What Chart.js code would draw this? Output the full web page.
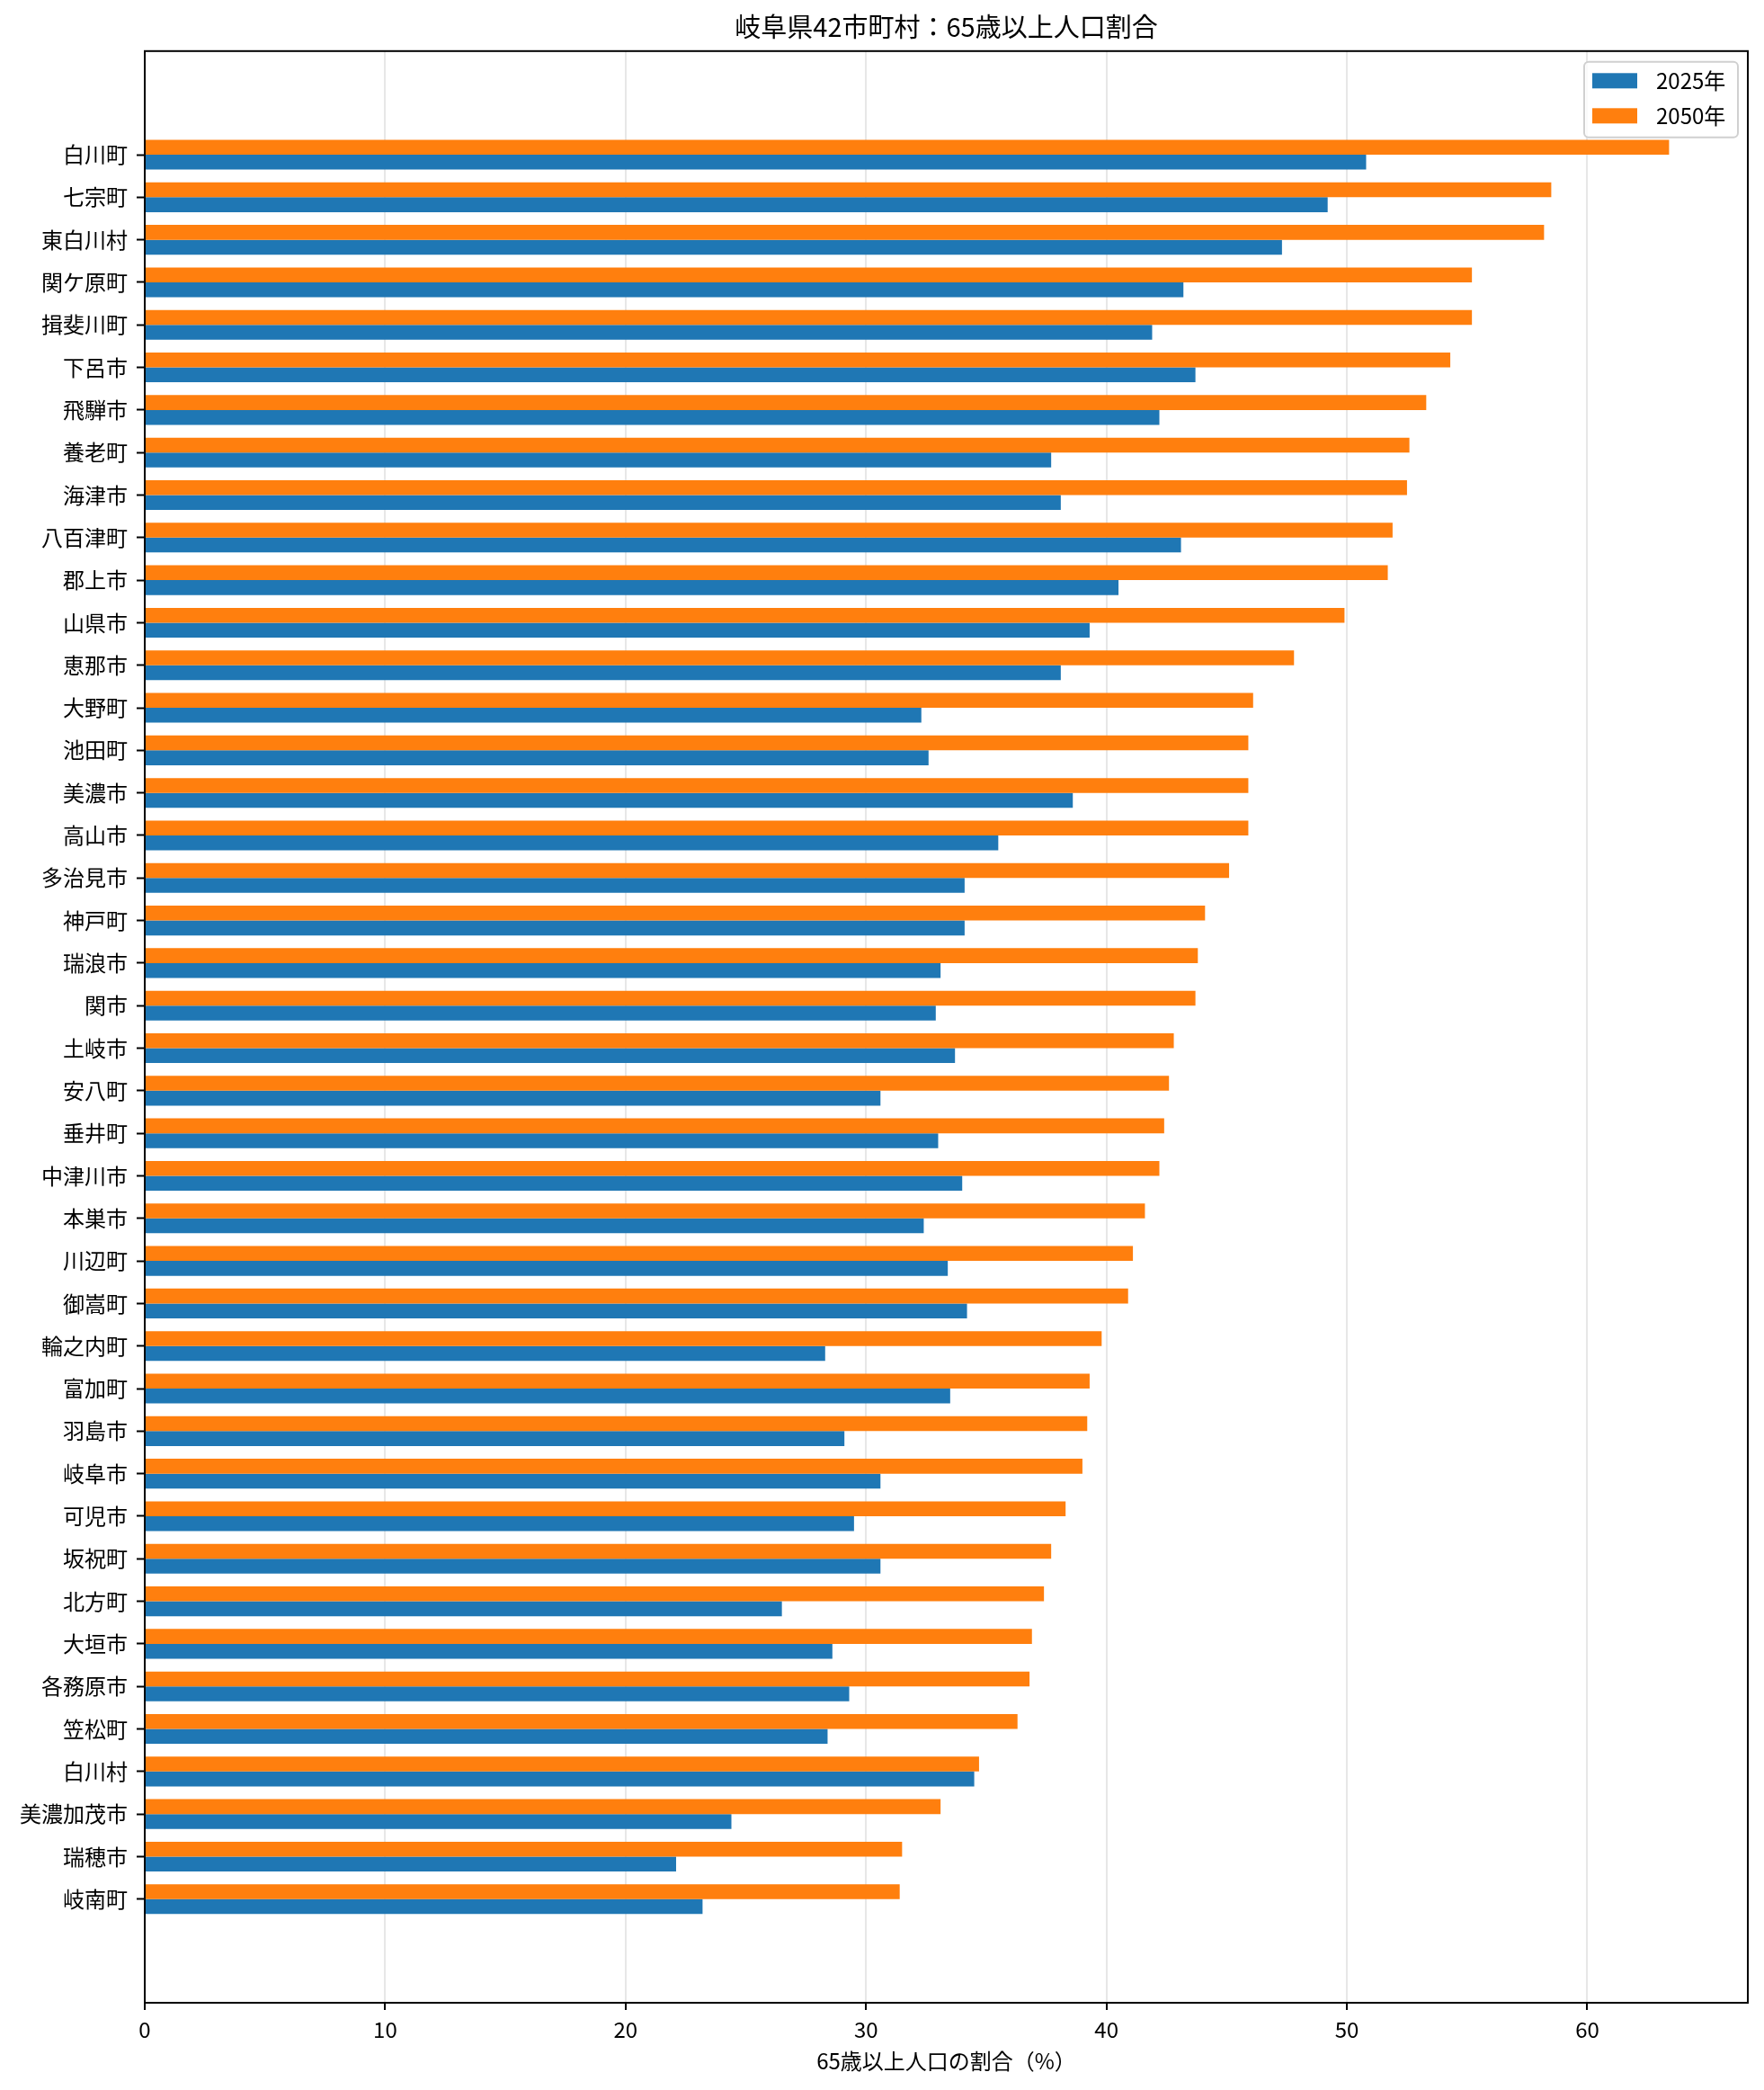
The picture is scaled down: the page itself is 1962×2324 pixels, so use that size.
<!DOCTYPE html>
<html>
<head>
<meta charset="utf-8">
<script src="https://cdn.jsdelivr.net/npm/chart.js@4.4.1/dist/chart.umd.min.js"></script>
<style>
  html, body { margin: 0; padding: 0; background: #fff; }
  #wrap { width: 1962px; height: 2324px; }
</style>
</head>
<body>
<div id="wrap"><canvas id="grafico"></canvas></div>
<script>
// 市町村名（2050年の割合が高い順）
const municipios = ['白川町', '七宗町', '東白川村', '関ケ原町', '揖斐川町', '下呂市', '飛騨市', '養老町', '海津市', '八百津町',
  '郡上市', '山県市', '恵那市', '大野町', '池田町', '美濃市', '高山市', '多治見市', '神戸町', '瑞浪市',
  '関市', '土岐市', '安八町', '垂井町', '中津川市', '本巣市', '川辺町', '御嵩町', '輪之内町', '富加町',
  '羽島市', '岐阜市', '可児市', '坂祝町', '北方町', '大垣市', '各務原市', '笠松町', '白川村', '美濃加茂市',
  '瑞穂市', '岐南町'];

const ratio2025 = [50.8, 49.2, 47.3, 43.2, 41.9, 43.7, 42.2, 37.7, 38.1, 43.1,
  40.5, 39.3, 38.1, 32.3, 32.6, 38.6, 35.5, 34.1, 34.1, 33.1,
  32.9, 33.7, 30.6, 33.0, 34.0, 32.4, 33.4, 34.2, 28.3, 33.5,
  29.1, 30.6, 29.5, 30.6, 26.5, 28.6, 29.3, 28.4, 34.5, 24.4,
  22.1, 23.2];

const ratio2050 = [63.4, 58.5, 58.2, 55.2, 55.2, 54.3, 53.3, 52.6, 52.5, 51.9,
  51.7, 49.9, 47.8, 46.1, 45.9, 45.9, 45.9, 45.1, 44.1, 43.8,
  43.7, 42.8, 42.6, 42.4, 42.2, 41.6, 41.1, 40.9, 39.8, 39.3,
  39.2, 39.0, 38.3, 37.7, 37.4, 36.9, 36.8, 36.3, 34.7, 33.1,
  31.5, 31.4];

const xTicks = [0, 10, 20, 30, 40, 50, 60];

const azul = '#1f77b4';
const naranja = '#ff7f0e';
const fuente = "'Noto Sans CJK JP', 'Noto Sans', sans-serif";

Chart.defaults.font.family = fuente;
Chart.defaults.color = '#000';

// marco negro alrededor del área de datos
const marco = {
  id: 'marco',
  afterDraw(chart) {
    const { ctx, chartArea: a } = chart;
    ctx.save();
    ctx.strokeStyle = '#000';
    ctx.lineWidth = 2;
    ctx.strokeRect(a.left, a.top, a.right - a.left, a.bottom - a.top);
    ctx.restore();
  }
};

// leyenda dentro del área, arriba a la derecha
const leyenda = {
  id: 'leyenda',
  afterDraw(chart) {
    const { ctx, chartArea: a } = chart;
    const items = chart.data.datasets.slice().reverse();
    const w = 171, h = 84;
    const x = a.right - 11 - w, y = a.top + 12;
    ctx.save();
    ctx.beginPath();
    ctx.roundRect(x, y, w, h, 5);
    ctx.fillStyle = 'rgba(255,255,255,0.8)';
    ctx.fill();
    ctx.strokeStyle = '#d0d0d0';
    ctx.lineWidth = 2;
    ctx.stroke();
    ctx.font = '24px ' + fuente;
    ctx.textBaseline = 'middle';
    ctx.textAlign = 'left';
    items.forEach((ds, i) => {
      const cy = y + 21 + i * 39;
      ctx.fillStyle = ds.backgroundColor;
      ctx.fillRect(x + 9, cy - 8.5, 50, 17);
      ctx.fillStyle = '#000';
      ctx.fillText(ds.label, x + 80, cy);
    });
    ctx.restore();
  }
};

const filas = municipios.map((_, i) => i);

new Chart(document.getElementById('grafico'), {
  type: 'bar',
  data: {
    datasets: [
      {
        label: '2050年',
        data: ratio2050.map((v, i) => ({ x: v, y: filas[i] })),
        backgroundColor: naranja
      },
      {
        label: '2025年',
        data: ratio2025.map((v, i) => ({ x: v, y: filas[i] })),
        backgroundColor: azul
      }
    ]
  },
  options: {
    indexAxis: 'y',
    responsive: true,
    maintainAspectRatio: false,
    devicePixelRatio: 1,
    animation: false,
    layout: { padding: { left: 0, right: 18, top: 0, bottom: 0 } },
    datasets: { bar: { categoryPercentage: 0.7, barPercentage: 1.0 } },
    plugins: {
      legend: { display: false },
      tooltip: { enabled: false },
      title: {
        display: true,
        text: '岐阜県42市町村：65歳以上人口割合',
        fullSize: false,
        color: '#000',
        font: { size: 29, weight: 'normal' },
        padding: { top: 13, bottom: 9 }
      }
    },
    scales: {
      x: {
        type: 'linear',
        position: 'bottom',
        min: 0,
        max: 66.675,
        z: 1,
        border: { display: false },
        grid: { color: 'rgba(176,176,176,0.3)', lineWidth: 2, tickColor: '#000', tickLength: 8, tickWidth: 2 },
        ticks: { stepSize: 10, includeBounds: false, padding: 7, font: { size: 24 }, color: '#000' },
        afterBuildTicks: (s) => { s.ticks = xTicks.map(v => ({ value: v })); },
        afterFit: (s) => { s.height = 97; },
        title: {
          display: true,
          text: '65歳以上人口の割合（%）',
          color: '#000',
          font: { size: 24 },
          padding: { top: 0, bottom: 18 }
        }
      },
      y: {
        type: 'linear',
        reverse: true,
        offset: false,
        min: -2.435,
        max: municipios.length - 1 + 2.435,
        border: { display: false },
        grid: { offset: false, drawOnChartArea: false, color: '#000', tickLength: 9, tickWidth: 2 },
        ticks: {
          padding: 10,
          font: { size: 24 },
          color: '#000',
          callback: (v) => municipios[v]
        },
        afterBuildTicks: (s) => { s.ticks = filas.map(v => ({ value: v })); },
        afterFit: (s) => { s.width = 161; }
      }
    }
  },
  plugins: [marco, leyenda]
});
</script>
</body>
</html>
